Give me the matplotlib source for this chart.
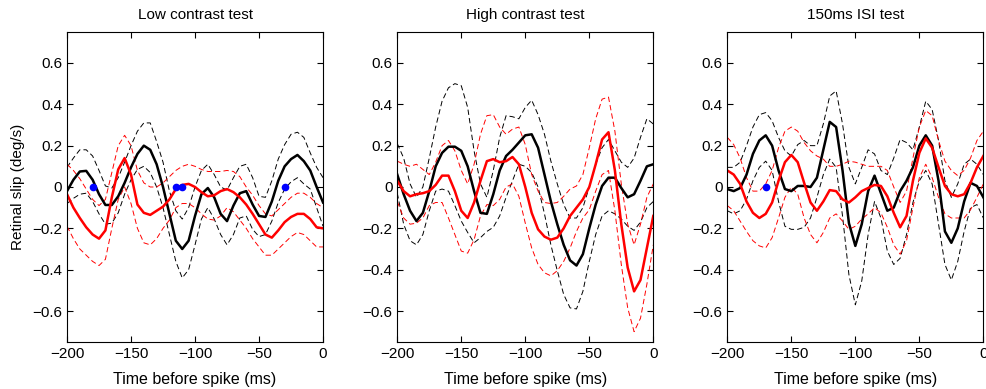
import numpy as np
import matplotlib
matplotlib.use("Agg")
import matplotlib.pyplot as plt

plt.rcParams["font.family"] = ["Liberation Sans", "DejaVu Sans"]

# time axis, 5 ms steps
t = np.arange(-200, 1, 5)

titles = ["Low contrast test", "High contrast test", "150ms ISI test"]

# ---- Low contrast test ----
low_black = [-0.02, 0.035, 0.075, 0.078, 0.035, -0.035, -0.087, -0.087, -0.045, 0.02,
             0.095, 0.16, 0.2, 0.18, 0.11, 0.0, -0.13, -0.26, -0.30, -0.26,
             -0.14, -0.035, -0.005, -0.05, -0.13, -0.165, -0.09, -0.03, -0.02, -0.085,
             -0.14, -0.145, -0.07, 0.03, 0.10, 0.135, 0.155, 0.125, 0.08, 0.0, -0.075]
low_black_hi = [0.095, 0.14, 0.18, 0.18, 0.15, 0.08, 0.005, -0.005, 0.045, 0.12,
                0.2, 0.27, 0.31, 0.31, 0.22, 0.12, -0.02, -0.115, -0.155, -0.1,
                0.0, 0.08, 0.11, 0.06, 0.0, -0.015, 0.045, 0.1, 0.11, 0.045,
                -0.045, -0.05, 0.03, 0.135, 0.205, 0.255, 0.265, 0.24, 0.165, 0.095, 0.045]
low_black_lo = [-0.08, -0.055, -0.035, -0.03, -0.07, -0.13, -0.18, -0.175, -0.125, -0.035,
                0.035, 0.085, 0.1, 0.07, 0.0, -0.1, -0.23, -0.36, -0.44, -0.4,
                -0.28, -0.155, -0.1, -0.155, -0.23, -0.28, -0.23, -0.15, -0.14, -0.205,
                -0.24, -0.23, -0.165, -0.075, -0.01, 0.025, 0.045, 0.015, -0.01, -0.1, -0.19]
low_red = [-0.035, -0.1, -0.15, -0.195, -0.23, -0.25, -0.21, -0.05, 0.085, 0.14,
           0.06, -0.085, -0.125, -0.135, -0.115, -0.095, -0.06, -0.01, 0.01, 0.015,
           0.0, -0.025, -0.045, -0.04, -0.02, -0.01, -0.025, -0.05, -0.085, -0.13,
           -0.18, -0.23, -0.245, -0.21, -0.17, -0.145, -0.13, -0.13, -0.155, -0.195, -0.2]
low_red_hi = [0.11, 0.08, 0.04, -0.01, -0.06, -0.09, -0.06, 0.07, 0.2, 0.25,
              0.2, 0.08, 0.02, 0.0, 0.0, 0.02, 0.05, 0.08, 0.1, 0.11,
              0.1, 0.085, 0.075, 0.075, 0.075, 0.08, 0.075, 0.05, 0.0, -0.04,
              -0.09, -0.13, -0.14, -0.11, -0.08, -0.05, -0.03, -0.03, -0.05, -0.08, -0.1]
low_red_lo = [-0.19, -0.25, -0.3, -0.33, -0.36, -0.38, -0.35, -0.2, -0.06, 0.0,
              -0.08, -0.2, -0.27, -0.28, -0.25, -0.2, -0.16, -0.1, -0.08, -0.08,
              -0.1, -0.13, -0.155, -0.16, -0.14, -0.1, -0.12, -0.16, -0.2, -0.25,
              -0.29, -0.33, -0.33, -0.3, -0.27, -0.24, -0.22, -0.23, -0.26, -0.29, -0.29]
low_dots = [-180, -115, -110, -30]

# ---- High contrast test ----
high_black = [0.06, -0.035, -0.115, -0.165, -0.125, -0.02, 0.1, 0.165, 0.195, 0.195,
              0.175, 0.1, -0.02, -0.125, -0.13, -0.035, 0.08, 0.15, 0.18, 0.215,
              0.25, 0.255, 0.19, 0.06, -0.07, -0.18, -0.28, -0.355, -0.38, -0.325,
              -0.2, -0.085, 0.005, 0.045, 0.045, -0.005, -0.05, -0.035, 0.03, 0.1, 0.11]
high_black_hi = [0.21, 0.14, 0.015, -0.05, 0.0, 0.14, 0.29, 0.415, 0.48, 0.5,
                 0.49, 0.385, 0.175, 0.015, -0.05, 0.08, 0.24, 0.345, 0.34, 0.33,
                 0.385, 0.42, 0.35, 0.255, 0.125, 0.015, -0.085, -0.15, -0.15, -0.1,
                 0.0, 0.11, 0.19, 0.23, 0.175, 0.12, 0.095, 0.14, 0.24, 0.33, 0.305]
high_black_lo = [-0.03, -0.18, -0.26, -0.28, -0.23, -0.115, -0.02, -0.01, -0.02, -0.09,
                 -0.165, -0.22, -0.27, -0.245, -0.215, -0.195, -0.14, -0.05, 0.03, 0.11,
                 0.1, 0.07, 0.0, -0.13, -0.28, -0.405, -0.52, -0.585, -0.59, -0.505,
                 -0.36, -0.23, -0.14, -0.115, -0.13, -0.155, -0.19, -0.21, -0.17, -0.1, -0.07]
high_red = [0.03, -0.02, -0.045, -0.035, -0.03, -0.02, 0.01, 0.055, 0.055, -0.02,
            -0.115, -0.15, -0.075, 0.03, 0.125, 0.135, 0.12, 0.125, 0.145, 0.11,
            0.0, -0.125, -0.205, -0.24, -0.255, -0.245, -0.2, -0.14, -0.1, -0.06,
            0.0, 0.11, 0.23, 0.265, 0.08, -0.18, -0.39, -0.505, -0.45, -0.295, -0.14]
high_red_hi = [0.125, 0.11, 0.1, 0.11, 0.085, 0.06, 0.12, 0.2, 0.225, 0.175,
               0.08, 0.015, 0.11, 0.255, 0.345, 0.35, 0.29, 0.255, 0.28, 0.29,
               0.205, 0.06, -0.02, -0.075, -0.08, -0.075, -0.045, -0.01, 0.005, 0.06,
               0.19, 0.33, 0.425, 0.435, 0.27, 0.015, -0.18, -0.28, -0.18, -0.05, 0.015]
high_red_lo = [-0.07, -0.15, -0.18, -0.175, -0.15, -0.09, -0.075, -0.075, -0.15, -0.23,
               -0.31, -0.32, -0.255, -0.14, -0.085, -0.09, -0.06, 0.0, 0.015, -0.045,
               -0.175, -0.295, -0.375, -0.415, -0.43, -0.405, -0.36, -0.295, -0.215, -0.15,
               -0.11, -0.02, 0.06, 0.08, -0.115, -0.375, -0.585, -0.7, -0.635, -0.47, -0.28]
high_dots = []

# ---- 150ms ISI test ----
isi_black = [-0.01, -0.02, -0.005, 0.06, 0.16, 0.225, 0.25, 0.2, 0.08, -0.01,
             -0.02, 0.005, 0.005, 0.0, 0.045, 0.18, 0.315, 0.29, 0.08, -0.175,
             -0.285, -0.18, -0.02, 0.055, -0.03, -0.115, -0.1, -0.02, 0.03, 0.095,
             0.2, 0.25, 0.2, 0.03, -0.215, -0.27, -0.2, -0.07, 0.02, 0.005, -0.05]
isi_black_hi = [0.095, 0.095, 0.12, 0.2, 0.29, 0.35, 0.36, 0.32, 0.24, 0.175,
                0.15, 0.205, 0.225, 0.2, 0.2, 0.305, 0.44, 0.465, 0.305, 0.095,
                0.015, 0.095, 0.18, 0.16, 0.08, 0.06, 0.14, 0.23, 0.215, 0.18,
                0.29, 0.415, 0.375, 0.225, 0.03, -0.05, 0.015, 0.11, 0.135, 0.11, 0.06]
isi_black_lo = [-0.115, -0.13, -0.115, -0.06, 0.03, 0.095, 0.125, 0.08, -0.07, -0.19,
                -0.205, -0.205, -0.195, -0.15, -0.05, 0.06, 0.135, 0.095, -0.14, -0.425,
                -0.57, -0.455, -0.23, -0.07, -0.15, -0.31, -0.375, -0.345, -0.23, -0.075,
                0.03, 0.08, 0.015, -0.18, -0.375, -0.45, -0.36, -0.215, -0.1, -0.085, -0.15]
isi_red = [0.08, 0.06, 0.015, -0.07, -0.125, -0.15, -0.13, -0.075, 0.03, 0.12,
           0.155, 0.12, 0.02, -0.075, -0.115, -0.07, -0.015, -0.02, -0.06, -0.075,
           -0.05, -0.02, -0.005, 0.01, 0.005, -0.045, -0.125, -0.195, -0.14, 0.03,
           0.165, 0.235, 0.19, 0.095, 0.005, -0.035, -0.045, -0.035, 0.02, 0.095, 0.15]
isi_red_hi = [0.24, 0.205, 0.14, 0.045, -0.02, -0.02, 0.015, 0.08, 0.19, 0.27,
              0.29, 0.27, 0.215, 0.175, 0.15, 0.135, 0.1, 0.1, 0.11, 0.125,
              0.12, 0.11, 0.1, 0.1, 0.1, 0.08, 0.0, -0.075, -0.02, 0.14,
              0.29, 0.37, 0.345, 0.225, 0.125, 0.08, 0.055, 0.08, 0.14, 0.225, 0.27]
isi_red_lo = [-0.09, -0.115, -0.165, -0.215, -0.26, -0.285, -0.295, -0.245, -0.15, -0.05,
              0.0, -0.035, -0.15, -0.23, -0.27, -0.22, -0.15, -0.13, -0.165, -0.205,
              -0.19, -0.155, -0.13, -0.1, -0.125, -0.195, -0.28, -0.325, -0.26, -0.1,
              0.045, 0.11, 0.045, -0.05, -0.13, -0.15, -0.15, -0.15, -0.11, -0.05, 0.015]
isi_dots = [-170]

panels = [
    (low_black, low_black_hi, low_black_lo, low_red, low_red_hi, low_red_lo, low_dots),
    (high_black, high_black_hi, high_black_lo, high_red, high_red_hi, high_red_lo, high_dots),
    (isi_black, isi_black_hi, isi_black_lo, isi_red, isi_red_hi, isi_red_lo, isi_dots),
]

fig = plt.figure(figsize=(9.87, 3.89), dpi=100)
lefts = [0.0679, 0.4025, 0.7369]
dash = dict(lw=0.7, dashes=(5.5, 3.2))

for i, (bk, bk_hi, bk_lo, rd, rd_hi, rd_lo, dots) in enumerate(panels):
    ax = fig.add_axes([lefts[i], 0.1208, 0.2594, 0.797])
    # dashed error bounds
    ax.plot(t, bk_hi, color="black", **dash)
    ax.plot(t, bk_lo, color="black", **dash)
    ax.plot(t, rd_hi, color="red", **dash)
    ax.plot(t, rd_lo, color="red", **dash)
    # means
    ax.plot(t, bk, color="black", lw=1.8)
    ax.plot(t, rd, color="red", lw=1.8)
    if dots:
        ax.plot(dots, np.zeros(len(dots)), "o", color="#0000ff", ms=5.5,
                mec="none", zorder=5)

    ax.set_xlim(-200, 0)
    ax.set_ylim(-0.75, 0.75)
    ax.set_xticks([-200, -150, -100, -50, 0])
    ax.set_yticks([-0.6, -0.4, -0.2, 0, 0.2, 0.4, 0.6])
    ax.set_yticklabels(["\u22120.6", "\u22120.4", "\u22120.2", "0", "0.2", "0.4", "0.6"])
    ax.tick_params(direction="in", top=True, right=True, length=4, width=0.8,
                   labelsize=11, colors="black")
    for s in ax.spines.values():
        s.set_linewidth(0.8)
    ax.set_title(titles[i], fontsize=11, pad=9)
    ax.set_xlabel("Time before spike (ms)", fontsize=11.5, labelpad=8)
    if i == 0:
        ax.set_ylabel("Retinal slip (deg/s)", fontsize=11, labelpad=5)

fig.savefig("out.png", dpi=100)
